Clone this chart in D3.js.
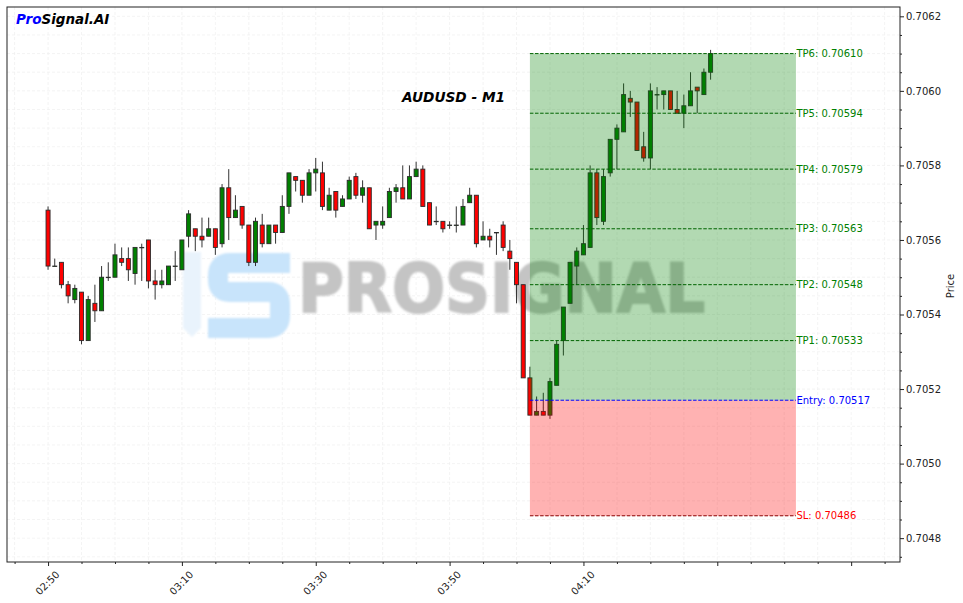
<!DOCTYPE html>
<html><head><meta charset="utf-8">
<script src="https://cdn.jsdelivr.net/npm/d3@7"></script>
<style>
body{margin:0;background:#fff;}
svg{display:block;font-family:"DejaVu Sans",sans-serif;}
</style>
</head><body>
<svg id="c" width="963" height="603"></svg>
<script>
// ---------------- data ----------------
const startTime = "02:50";
const openP  = [0.70568,0.70553,0.70554,0.70548,0.70544,0.70546,0.70533,0.70543,0.70541,0.70550,
                0.70550,0.70555,0.70555,0.70551,0.70558,0.70560,0.70549,0.70548,0.70548,0.70553,
                0.70552,0.70561,0.70563,0.70561,0.70561,0.70563,0.70559,0.70574,0.70566,0.70569,
                0.70564,0.70554,0.70564,0.70559,0.70564,0.70562,0.70569,0.70577,0.70576,0.70572,
                0.70578,0.70578,0.70568,0.70573,0.70569,0.70571,0.70577,0.70572,0.70574,0.70564,
                0.70564,0.70566,0.70573,0.70574,0.70571,0.70577,0.70579,0.70570,0.70565,0.70565,
                0.70564,0.70564,0.70564,0.70570,0.70572,0.70560,0.70561,0.70562,0.70564,0.70557,
                0.70554,0.70548,0.70523,0.70513,0.70514,0.70513,0.70521,0.70533,0.70543,0.70553,
                0.70556,0.70558,0.70578,0.70565,0.70578,0.70587,0.70589,0.70598,0.70597,0.70585,
                0.70582,0.70599,0.70599,0.70600,0.70595,0.70594,0.70596,0.70601,0.70599,0.70605];
const highP  = [0.70569,0.70555,0.70554,0.70549,0.70548,0.70546,0.70545,0.70548,0.70553,0.70554,
                0.70559,0.70558,0.70558,0.70558,0.70559,0.70560,0.70552,0.70552,0.70553,0.70557,
                0.70560,0.70568,0.70563,0.70566,0.70566,0.70563,0.70575,0.70579,0.70572,0.70569,
                0.70564,0.70566,0.70567,0.70564,0.70564,0.70572,0.70578,0.70577,0.70576,0.70579,
                0.70582,0.70581,0.70574,0.70573,0.70572,0.70577,0.70578,0.70576,0.70574,0.70565,
                0.70569,0.70574,0.70575,0.70580,0.70580,0.70581,0.70580,0.70570,0.70569,0.70565,
                0.70565,0.70569,0.70571,0.70574,0.70572,0.70565,0.70563,0.70562,0.70565,0.70560,
                0.70554,0.70548,0.70526,0.70518,0.70519,0.70523,0.70533,0.70542,0.70554,0.70558,
                0.70564,0.70580,0.70579,0.70579,0.70587,0.70591,0.70602,0.70600,0.70597,0.70589,
                0.70602,0.70601,0.70600,0.70600,0.70600,0.70599,0.70605,0.70601,0.70606,0.70611];
const lowP   = [0.70552,0.70553,0.70547,0.70543,0.70543,0.70532,0.70533,0.70538,0.70541,0.70549,
                0.70550,0.70553,0.70549,0.70548,0.70549,0.70547,0.70544,0.70547,0.70548,0.70549,
                0.70552,0.70558,0.70557,0.70558,0.70561,0.70556,0.70558,0.70560,0.70566,0.70563,
                0.70553,0.70553,0.70558,0.70559,0.70559,0.70562,0.70567,0.70573,0.70570,0.70572,
                0.70573,0.70568,0.70568,0.70566,0.70569,0.70571,0.70571,0.70570,0.70563,0.70560,
                0.70563,0.70566,0.70570,0.70571,0.70571,0.70577,0.70569,0.70564,0.70564,0.70562,
                0.70563,0.70562,0.70564,0.70570,0.70558,0.70560,0.70558,0.70556,0.70557,0.70552,
                0.70543,0.70523,0.70513,0.70513,0.70513,0.70512,0.70521,0.70529,0.70543,0.70548,
                0.70556,0.70558,0.70564,0.70564,0.70577,0.70579,0.70589,0.70593,0.70584,0.70581,
                0.70579,0.70595,0.70595,0.70595,0.70594,0.70590,0.70596,0.70594,0.70599,0.70603];
const closeP = [0.70553,0.70553,0.70548,0.70545,0.70547,0.70533,0.70544,0.70541,0.70550,0.70550,
                0.70556,0.70554,0.70552,0.70558,0.70558,0.70549,0.70548,0.70549,0.70553,0.70553,
                0.70560,0.70567,0.70561,0.70560,0.70563,0.70558,0.70574,0.70566,0.70568,0.70564,
                0.70554,0.70565,0.70559,0.70564,0.70562,0.70569,0.70578,0.70576,0.70572,0.70578,
                0.70579,0.70569,0.70572,0.70568,0.70571,0.70576,0.70572,0.70574,0.70563,0.70565,
                0.70565,0.70573,0.70574,0.70571,0.70577,0.70579,0.70569,0.70564,0.70565,0.70563,
                0.70564,0.70564,0.70569,0.70572,0.70559,0.70561,0.70560,0.70562,0.70558,0.70555,
                0.70548,0.70523,0.70513,0.70514,0.70513,0.70522,0.70532,0.70542,0.70554,0.70557,
                0.70559,0.70578,0.70566,0.70577,0.70587,0.70590,0.70599,0.70597,0.70584,0.70582,
                0.70600,0.70599,0.70600,0.70595,0.70594,0.70596,0.70600,0.70600,0.70605,0.70610];

const entryPrice = 0.70517;
const slPrice = 0.70486;
const tpNames = ["TP1","TP2","TP3","TP4","TP5","TP6"];
const tpLevels = [0.70533,0.70548,0.70563,0.70579,0.70594,0.70610];
const signalTime = "04:02:00";
const zoneEndTime = "04:41:45";

const xTickTimes = ["02:50","03:10","03:30","03:50","04:10","04:30","04:50"];
const xTickLabels = ["02:50","03:10","03:30","03:50","04:10","",""];
const yTickValues = [0.7048,0.7050,0.7052,0.7054,0.7056,0.7058,0.7060,0.7062];
const xDomainTimes = ["02:43:52","04:57:18"];
const yDomain = [0.704736, 0.706225];
const chartTitle = "AUDUSD - M1";

// ---------------- setup ----------------
const L = 7, R = 900, T = 7, B = 562;
const pHM = d3.utcParse("%H:%M"), pHMS = d3.utcParse("%H:%M:%S");
const t0 = pHM(startTime);
const x = d3.scaleUtc().domain(xDomainTimes.map(pHMS)).range([L, R]);
const y = d3.scaleLinear().domain(yDomain).range([B, T]);
const data = openP.map((o, i) => ({t: d3.utcMinute.offset(t0, i), o, h: highP[i], l: lowP[i], c: closeP[i]}));

const svg = d3.select("#c");

// grid
const gGrid = svg.append("g");
const gridX = d3.utcMinute.every(5).range(x.domain()[0], x.domain()[1]);
const gridY = d3.range(Math.ceil(yDomain[0] / 0.00005), Math.floor(yDomain[1] / 0.00005) + 1).map(k => +(k * 0.00005).toFixed(5));
gGrid.selectAll("line.gx").data(gridX).join("line")
  .attr("x1", d => x(d)).attr("x2", d => x(d)).attr("y1", T).attr("y2", B)
  .attr("stroke", "#efefef").attr("stroke-width", 0.7).attr("stroke-dasharray", "3,2");
gGrid.selectAll("line.gy").data(gridY).join("line")
  .attr("x1", L).attr("x2", R).attr("y1", d => y(d)).attr("y2", d => y(d))
  .attr("stroke", "#efefef").attr("stroke-width", 0.7).attr("stroke-dasharray", "3,2");

// watermark
const defs = svg.append("defs");
defs.append("filter").attr("id", "blur").append("feGaussianBlur").attr("stdDeviation", 0.9);
const gW = svg.append("g").attr("filter", "url(#blur)");
gW.append("path").attr("d", "M183 252 L201 252 L201 328 L192 337 L183 328 Z").attr("fill", "#e9f3fc");
gW.append("path")
  .attr("d", "M290 263 L230 263 Q218 263 218 275 L218 280 Q218 292 230 292 L268 292 Q280 292 280 304 L280 316 Q280 328 268 328 L208 328")
  .attr("fill", "none").attr("stroke", "#c8e4fb").attr("stroke-width", 20);
gW.append("text").attr("x", 298).attr("y", 312).text("PROSIGNAL")
  .attr("font-size", 68).attr("font-weight", "bold").attr("fill", "#c4c4c4")
  .attr("stroke", "#c4c4c4").attr("stroke-width", 2)
  .attr("textLength", 407).attr("lengthAdjust", "spacingAndGlyphs");

// candles
const bw = x(d3.utcSecond.offset(t0, 36)) - x(t0);
const gC = svg.append("g");
gC.selectAll("line.wick").data(data).join("line")
  .attr("x1", d => x(d.t)).attr("x2", d => x(d.t))
  .attr("y1", d => y(d.h)).attr("y2", d => y(d.l))
  .attr("stroke", "#333").attr("stroke-width", 1);
gC.selectAll("rect.body").data(data).join("rect")
  .attr("x", d => x(d.t) - bw / 2).attr("width", bw)
  .attr("y", d => y(Math.max(d.o, d.c)))
  .attr("height", d => Math.max(0.4, Math.abs(y(d.o) - y(d.c))))
  .attr("fill", d => d.c >= d.o ? "#008000" : "#ff0000")
  .attr("stroke", "#2b2b2b").attr("stroke-width", 0.9);

// zones
const zx0 = x(pHMS(signalTime)), zx1 = x(pHMS(zoneEndTime));
const tpMax = d3.max(tpLevels);
svg.append("rect").attr("x", zx0).attr("width", zx1 - zx0)
  .attr("y", y(tpMax)).attr("height", y(entryPrice) - y(tpMax))
  .attr("fill", "green").attr("fill-opacity", 0.3);
svg.append("rect").attr("x", zx0).attr("width", zx1 - zx0)
  .attr("y", y(entryPrice)).attr("height", y(slPrice) - y(entryPrice))
  .attr("fill", "red").attr("fill-opacity", 0.3);

// level lines + labels
const levels = tpLevels.map((v, i) => ({v, label: `${tpNames[i]}: ${v.toFixed(5)}`, line: "#006400", txt: "#008000"}))
  .concat([{v: entryPrice, label: `Entry: ${entryPrice.toFixed(5)}`, line: "#0000ff", txt: "#0000ff"},
           {v: slPrice, label: `SL: ${slPrice.toFixed(5)}`, line: "#8b0000", txt: "#ff0000"}]);
const gL = svg.append("g");
gL.selectAll("line").data(levels).join("line")
  .attr("x1", zx0).attr("x2", zx1).attr("y1", d => y(d.v)).attr("y2", d => y(d.v))
  .attr("stroke", d => d.line).attr("stroke-width", 1).attr("stroke-dasharray", "3.5,1.6");
gL.selectAll("text").data(levels).join("text")
  .attr("x", zx1 + 0.5).attr("y", d => y(d.v)).attr("dy", "0.35em")
  .attr("font-size", 10).attr("fill", d => d.txt).text(d => d.label);

// axes
const yAxis = d3.axisRight(y).tickValues(yTickValues).tickFormat(d3.format(".4f")).tickSize(4).tickPadding(2);
const gy = svg.append("g").attr("transform", `translate(${R},0)`).call(yAxis);
const yMinor = d3.axisRight(y).tickValues(gridY.filter(v => !yTickValues.some(t => Math.abs(t - v) < 1e-7))).tickSize(2).tickFormat("");
svg.append("g").attr("transform", `translate(${R},0)`).call(yMinor);

const xTicks = xTickTimes.map(pHM);
const xAxis = d3.axisBottom(x).tickValues(xTicks).tickSize(4).tickFormat((d, i) => xTickLabels[i]);
const gx = svg.append("g").attr("transform", `translate(0,${B})`).call(xAxis);
const xMinor = d3.axisBottom(x).tickValues(gridX.filter(d => !xTicks.some(t => +t === +d))).tickSize(2).tickFormat("");
svg.append("g").attr("transform", `translate(0,${B})`).call(xMinor);

svg.selectAll(".domain").remove();
svg.selectAll(".tick line").attr("stroke", "#222");
gy.selectAll("text").attr("font-size", 10).attr("fill", "#222").attr("font-family", "DejaVu Sans");
gx.selectAll("text").attr("font-size", 10).attr("fill", "#222").attr("font-family", "DejaVu Sans")
  .attr("y", 0).attr("dy", null).attr("text-anchor", "middle").attr("dominant-baseline", "central")
  .attr("transform", "translate(-1,21) rotate(-45)");

// frame
svg.append("rect").attr("x", L).attr("y", T).attr("width", R - L).attr("height", B - T)
  .attr("fill", "none").attr("stroke", "#222").attr("stroke-width", 1);

// labels
svg.append("text").attr("transform", "translate(954,286) rotate(-90)")
  .attr("text-anchor", "middle").attr("font-size", 10).attr("fill", "#222").text("Price");
svg.append("text").attr("x", (L + R) / 2).attr("y", 102).attr("text-anchor", "middle")
  .attr("font-size", 13.7).attr("font-weight", "bold").attr("font-style", "italic").text(chartTitle);
const logo = svg.append("text").attr("x", 16).attr("y", 24)
  .attr("font-size", 13.5).attr("font-weight", "bold").attr("font-style", "italic");
logo.append("tspan").attr("fill", "#0000ff").text("Pro");
logo.append("tspan").attr("fill", "#000").text("Signal.AI");
</script>
</body></html>
